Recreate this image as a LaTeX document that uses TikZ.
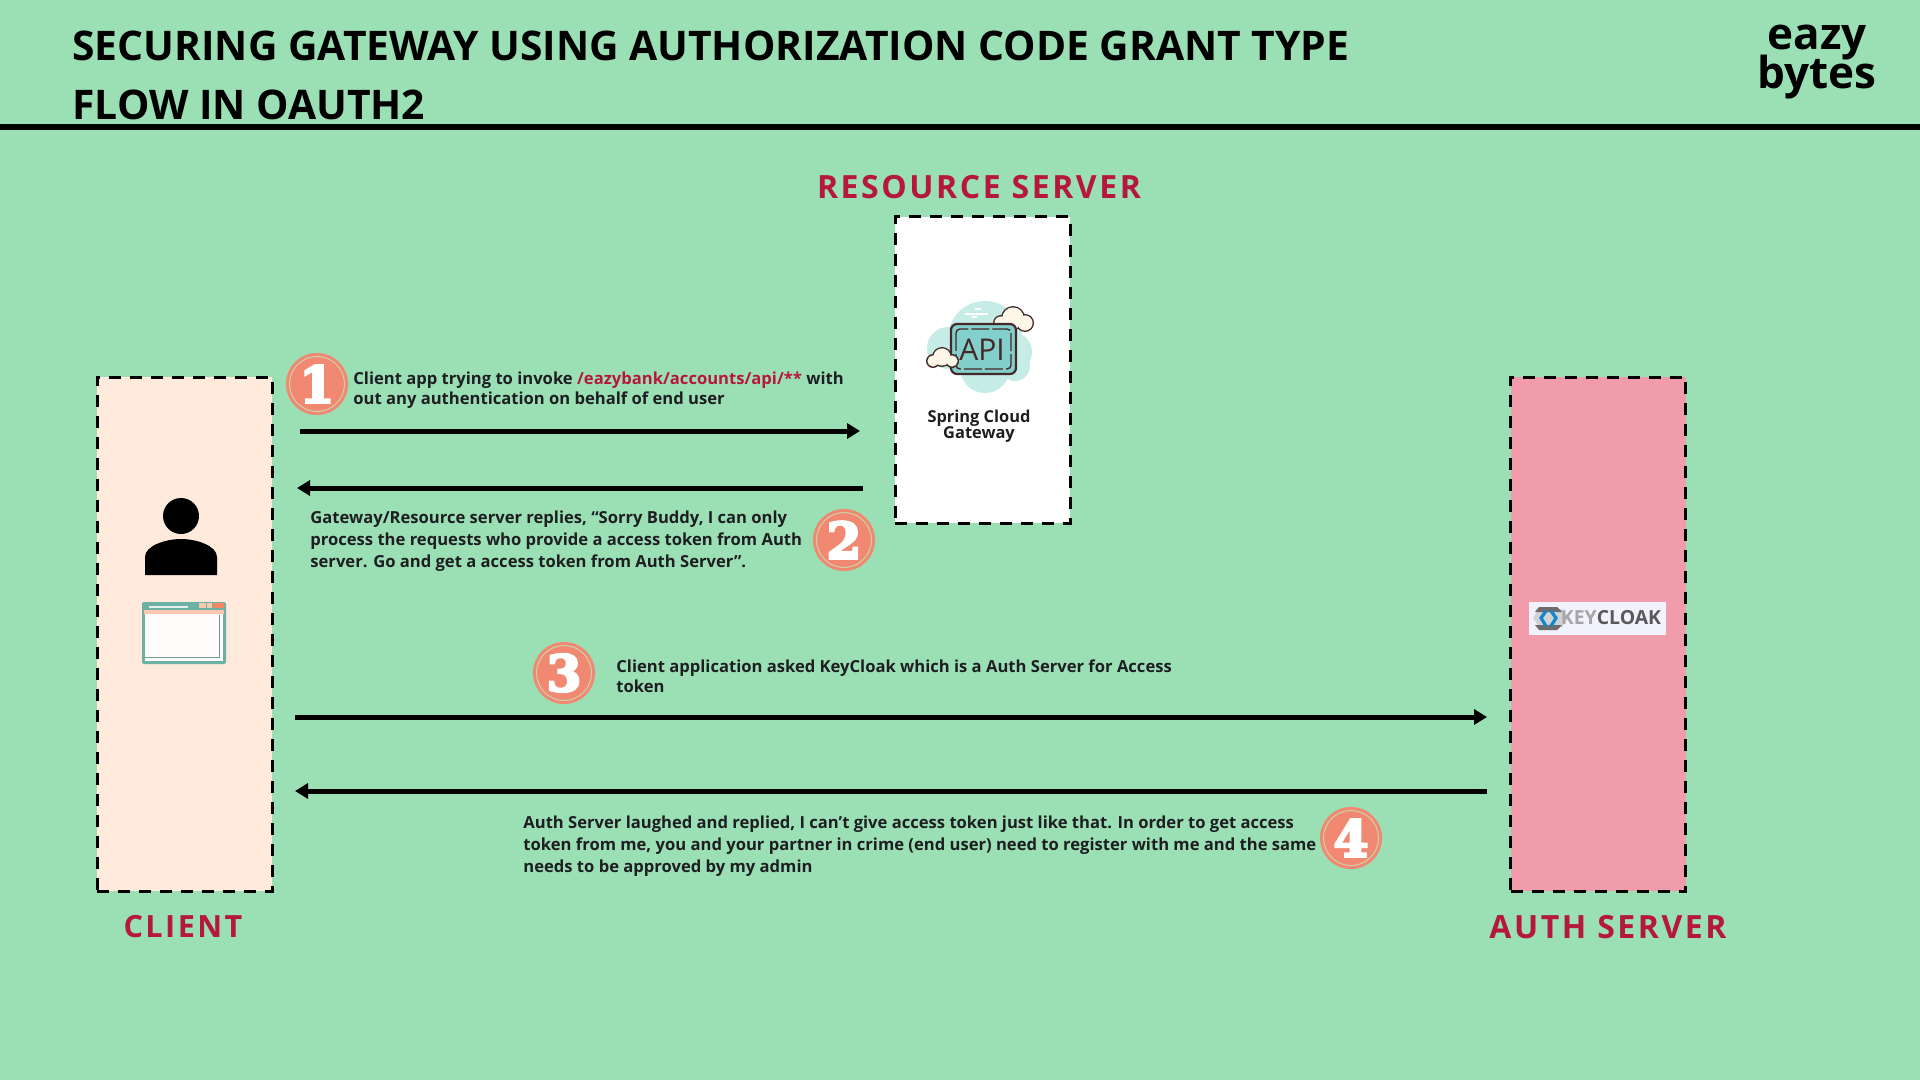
\documentclass[tikz,border=0pt]{standalone}
\usepackage{fontspec}
\setmainfont{Open Sans}
\newfontfamily\labelfont[LetterSpace=8]{Open Sans}
\newfontfamily\badgefont[FakeBold=5]{DejaVu Serif}
\usetikzlibrary{
    arrows.meta,
    shapes.geometric,
    positioning
}
\newcommand{\tightlines}{\lineskiplimit=-20pt\relax}
\definecolor{pagegreen}{RGB}{155, 224, 181}
\definecolor{crimson}{RGB}{181, 23, 63}
\definecolor{clientfill}{RGB}{255, 234, 220}
\definecolor{authfill}{RGB}{240, 156, 170}
\definecolor{salmon}{RGB}{240, 136, 114}
\definecolor{ringpale}{RGB}{250, 200, 175}
\definecolor{badgering}{RGB}{205, 210, 170}
\definecolor{inkdark}{RGB}{30, 30, 34}
\definecolor{blobcyan}{RGB}{197, 237, 230}
\definecolor{screencyan}{RGB}{130, 207, 203}
\definecolor{iconbrown}{RGB}{70, 40, 40}
\definecolor{cloudcream}{RGB}{252, 247, 230}
\definecolor{frameteal}{RGB}{108, 177, 164}
\tikzstyle{serverbox} = [
    rectangle,
    draw=black,
    line width=1.5pt,
    dash pattern=on 6pt off 4.5pt,
    minimum width=87.5pt,
    inner sep=0pt
]
\tikzstyle{rolelabel} = [
    text=crimson,
    inner sep=0pt,
    font=\labelfont\bfseries\fontsize{16}{19}\selectfont
]
\tikzstyle{badge} = [
    circle,
    fill=salmon,
    draw=badgering,
    line width=0.5pt,
    preaction={draw=salmon, line width=3.6pt},
    minimum size=27.5pt,
    inner sep=0pt,
    text=white,
    font=\badgefont\bfseries\fontsize{25}{25}\selectfont
]
\tikzstyle{stepnote} = [
    anchor=west,
    align=left,
    inner sep=0pt,
    text=inkdark,
    font=\bfseries\fontsize{8.3}{10}\selectfont
]
\tikzstyle{arrow} = [
    -{Triangle[length=6.5pt, width=7.5pt]},
    line width=2.5pt,
    draw=black
]

\begin{document}
\begin{tikzpicture}[x=0.5pt, y=-0.5pt]
    % Page
    \fill[pagegreen] (0,0) rectangle (1920,1080);
    \useasboundingbox (0,0) rectangle (1920,1080);

    % Header
    \node[anchor=west, align=left, inner sep=0pt, font=\bfseries\fontsize{20.4}{29.2}\selectfont] (title) at (72,75.5)
        {SECURING GATEWAY USING AUTHORIZATION CODE GRANT TYPE\\FLOW IN OAUTH2};
    \node[align=center, inner sep=0pt, font=\bfseries\fontsize{22}{19.5}\selectfont\tightlines] (logo) at (1817,62.5) {eazy\\bytes};
    \coordinate (ruleleft) at (0,127);
    \coordinate (ruleright) at (1920,127);
    \draw[line width=2.6pt] (ruleleft) -- (ruleright);

    % Main boxes
    \node[serverbox, fill=clientfill, minimum height=257pt] (client) at (184.5,634) {};
    \node[serverbox, fill=white, minimum height=153pt] (gateway) at (982.5,370) {};
    \node[serverbox, fill=authfill, minimum height=257pt] (auth) at (1598,634) {};

    % Box labels
    \node[rolelabel] (gatewaylabel) at (979,187) {RESOURCE SERVER};
    \node[rolelabel, font=\labelfont\bfseries\fontsize{15.3}{19}\selectfont] (clientlabel) at (183,927) {CLIENT};
    \node[rolelabel] (authlabel) at (1608,927) {AUTH SERVER};

    % Person
    \fill[black] (181,516) circle (18);
    \fill[black] (145,575) -- (145,557) .. controls (145,546) and (165,539) .. (181,539)
        .. controls (197,539) and (217,546) .. (217,557) -- (217,575) -- cycle;

    % Browser window
    \fill[frameteal, rounded corners=1pt] (142,602) rectangle (226,664);
    \fill[white!92!clientfill] (145,614) rectangle (223,661);
    \fill[ringpale] (144,610) rectangle (224,614);
    \fill[white!80!frameteal] (149,606) rectangle (188,607.5);
    \fill[ringpale] (199,603) rectangle (206,608);
    \fill[ringpale] (207,603) rectangle (212,608);
    \fill[salmon!85!orange] (213,603) rectangle (224,608);
    \draw[frameteal!50!gray, line width=0.3pt] (219,615) -- (219,657) -- (145,657);

    % API icon
    \fill[blobcyan] (985,338) circle (37);
    \fill[blobcyan] (948,348) circle (21);
    \fill[blobcyan] (1012,352) circle (20);
    \fill[blobcyan] (985,368) circle (25);
    \fill[blobcyan] (1015,366) circle (15);
    \draw[white, line width=0.6pt] (965,314) -- (988,314) (975,309) -- (981,309) (972,317) -- (977,317)
        (944,386) -- (966,386) (952,382) -- (960,382) (945,389) -- (952,389);
    \foreach \cx/\cy/\cr in {1013/318/11, 1001/323/7, 1025/323/8} {
        \fill[iconbrown] (\cx,\cy) circle (\cr+1);
    }
    \foreach \cx/\cy/\cr in {1013/318/11, 1001/323/7, 1025/323/8} {
        \fill[cloudcream] (\cx,\cy) circle (\cr-0.4);
    }
    \draw[iconbrown, rounded corners=3pt, line width=1.1pt, fill=screencyan] (951,324) rectangle (1016,374);
    \draw[iconbrown, rounded corners=2pt, line width=0.7pt, dash pattern=on 9pt off 1.5pt] (956,329) rectangle (1011,369);
    \node[inner sep=0pt, text=iconbrown, font=\fontsize{15}{15}\selectfont] (apitext) at (982,350) {API};
    \foreach \cx/\cy/\cr in {942/357/9, 933/361/6, 952/361/6} {
        \fill[iconbrown] (\cx,\cy) circle (\cr+1);
    }
    \foreach \cx/\cy/\cr in {942/357/9, 933/361/6, 952/361/6} {
        \fill[cloudcream] (\cx,\cy) circle (\cr-0.4);
    }
    \node[align=center, inner sep=0pt, text=inkdark, font=\bfseries\fontsize{8.2}{7.8}\selectfont\tightlines] (gatewayname) at (979,426.5)
        {Spring Cloud\\Gateway};

    % Keycloak logo
    \node[rectangle, fill=white!95!blue, minimum width=68.5pt, minimum height=16.5pt, inner sep=0pt] (logobox) at (1597.5,618.5) {};
    \fill[gray!35] (1533,618) -- (1539,609) -- (1562,609) -- (1568,618) -- (1562,627) -- (1539,627) -- cycle;
    \fill[gray!85!black] (1539,607) -- (1557,607) -- (1562,612) -- (1535,612) -- cycle;
    \fill[gray!85!black] (1539,630) -- (1557,630) -- (1562,625) -- (1535,625) -- cycle;
    \draw[cyan!70!blue, line width=1.6pt] (1546,611) -- (1541,618) -- (1546,626) (1551,611) -- (1556,618) -- (1551,626);
    \node[inner sep=0pt, font=\bfseries\fontsize{9.7}{10}\selectfont] (logotext) at (1611,618) {{\color{gray!70}KEY}{\color{gray!70!black}CLOAK}};

    % Step badges
    \node[badge] (stepone) at (317,384) {1};
    \node[badge] (steptwo) at (844,540) {2};
    \node[badge] (stepthree) at (564,673) {3};
    \node[badge] (stepfour) at (1351,838) {4};

    % Step notes
    \node[stepnote] (noteone) at (353,390.5) {Client app trying to invoke {\color{crimson}/eazybank/accounts/api/**} with\\out any authentication on behalf of end user};
    \node[stepnote, font=\bfseries\fontsize{8.3}{11}\selectfont] (notetwo) at (310,541.5) {Gateway/Resource server replies, “Sorry Buddy, I can only\\process the requests who provide a access token from Auth\\server. Go and get a access token from Auth Server”.};
    \node[stepnote] (notethree) at (616,676) {Client application asked KeyCloak which is a Auth Server for Access\\token};
    \node[stepnote, font=\bfseries\fontsize{8.3}{11}\selectfont] (notefour) at (523,846) {Auth Server laughed and replied, I can’t give access token just like that. In order to get access\\token from me, you and your partner in crime (end user) need to register with me and the same\\needs to be approved by my admin};

    % Arrow ends
    \coordinate (oneout) at (300,431);
    \coordinate (onein) at (860,431);
    \coordinate (twoout) at (863,488);
    \coordinate (twoin) at (297,488);
    \coordinate (threeout) at (295,717);
    \coordinate (threein) at (1487,717);
    \coordinate (fourout) at (1487,791);
    \coordinate (fourin) at (295,791);

    % Arrows
    \draw[arrow] (oneout) -- (onein);
    \draw[arrow] (twoout) -- (twoin);
    \draw[arrow] (threeout) -- (threein);
    \draw[arrow] (fourout) -- (fourin);
\end{tikzpicture}
\end{document}
